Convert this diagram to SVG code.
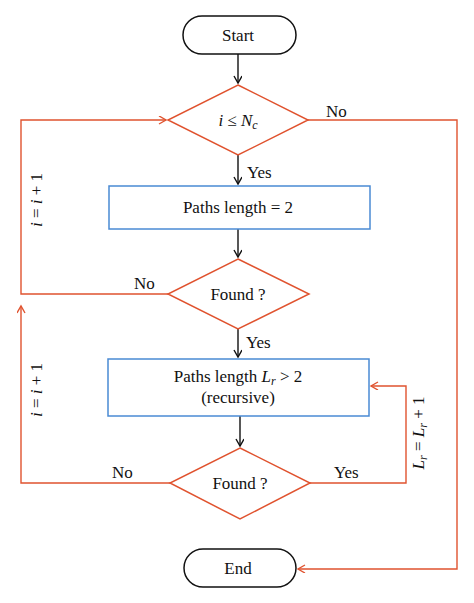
<svg xmlns="http://www.w3.org/2000/svg" width="474" height="603" viewBox="0 0 474 603">
<style>
text{font-family:"Liberation Serif","Times New Roman",serif;font-size:17px;fill:#111}
.c{text-anchor:middle}
.term{fill:#fff;stroke:#111;stroke-width:1.5}
.proc{fill:#fff;stroke:#4a8ad4;stroke-width:1.5}
.dec{fill:#fff;stroke:#e0532f;stroke-width:1.5}
.blk{fill:none;stroke:#111;stroke-width:1.4}
.red{fill:none;stroke:#e0532f;stroke-width:1.4}
</style>
<defs>
<marker id="ab" markerWidth="10" markerHeight="10" refX="8" refY="4" orient="auto" markerUnits="userSpaceOnUse"><path d="M1,0 L8,4 L1,8" fill="none" stroke="#111" stroke-width="1.4"/></marker>
<marker id="ar" markerWidth="10" markerHeight="10" refX="8" refY="4" orient="auto" markerUnits="userSpaceOnUse"><path d="M1,0 L8,4 L1,8" fill="none" stroke="#e0532f" stroke-width="1.4"/></marker>
</defs>
<g id="connectors">
<path class="blk" d="M238,54 V83" marker-end="url(#ab)"/>
<path class="blk" d="M238,155 V184" marker-end="url(#ab)"/>
<path class="blk" d="M238,229 V257" marker-end="url(#ab)"/>
<path class="blk" d="M238,329 V357" marker-end="url(#ab)"/>
<path class="blk" d="M240,416 V446" marker-end="url(#ab)"/>
<path class="red" d="M308,120 H457 V569 H298" marker-end="url(#ar)"/>
<path class="red" d="M168,294 H21 V120 H166" marker-end="url(#ar)"/>
<path class="red" d="M170,483 H21 V306" marker-end="url(#ar)"/>
<path class="red" d="M310,483 H406 V386 H371" marker-end="url(#ar)"/>
<text x="326" y="117">No</text>
<text x="247" y="178">Yes</text>
<text x="134" y="289">No</text>
<text x="246" y="348">Yes</text>
<text x="112" y="478">No</text>
<text x="334" y="478">Yes</text>
<text class="c" transform="translate(42,200) rotate(-90)"><tspan font-style="italic">i</tspan> = <tspan font-style="italic">i</tspan> + 1</text>
<text class="c" transform="translate(42,390) rotate(-90)"><tspan font-style="italic">i</tspan> = <tspan font-style="italic">i</tspan> + 1</text>
<text class="c" transform="translate(424,433) rotate(-90)"><tspan font-style="italic">L</tspan><tspan font-style="italic" font-size="12" dy="3">r</tspan><tspan dy="-3"> = </tspan><tspan font-style="italic">L</tspan><tspan font-style="italic" font-size="12" dy="3">r</tspan><tspan dy="-3"> + 1</tspan></text>
</g>
<g id="start"><rect class="term" x="183" y="16" width="113" height="38" rx="19"/><text class="c" x="238" y="41">Start</text></g>
<g id="cond"><polygon class="dec" points="238,85 308,120 238,155 168,120"/><text class="c" x="238" y="126"><tspan font-style="italic">i</tspan> ≤ <tspan font-style="italic">N</tspan><tspan font-style="italic" font-size="12" dy="3">c</tspan></text></g>
<g id="paths2"><rect class="proc" x="109" y="186" width="261" height="43"/><text class="c" x="238" y="213">Paths length = 2</text></g>
<g id="found1"><polygon class="dec" points="238,259 309,294 238,329 168,294"/><text class="c" x="238" y="300">Found ?</text></g>
<g id="pathsr"><rect class="proc" x="108" y="359" width="261" height="57"/><text class="c" x="238" y="382">Paths length <tspan font-style="italic">L</tspan><tspan font-style="italic" font-size="12" dy="3">r</tspan><tspan dy="-3"> &gt; 2</tspan></text><text class="c" x="238" y="403">(recursive)</text></g>
<g id="found2"><polygon class="dec" points="240,448 310,483 240,519 170,483"/><text class="c" x="240" y="489">Found ?</text></g>
<g id="end"><rect class="term" x="184" y="549" width="112" height="38" rx="19"/><text class="c" x="238" y="574">End</text></g>
</svg>
